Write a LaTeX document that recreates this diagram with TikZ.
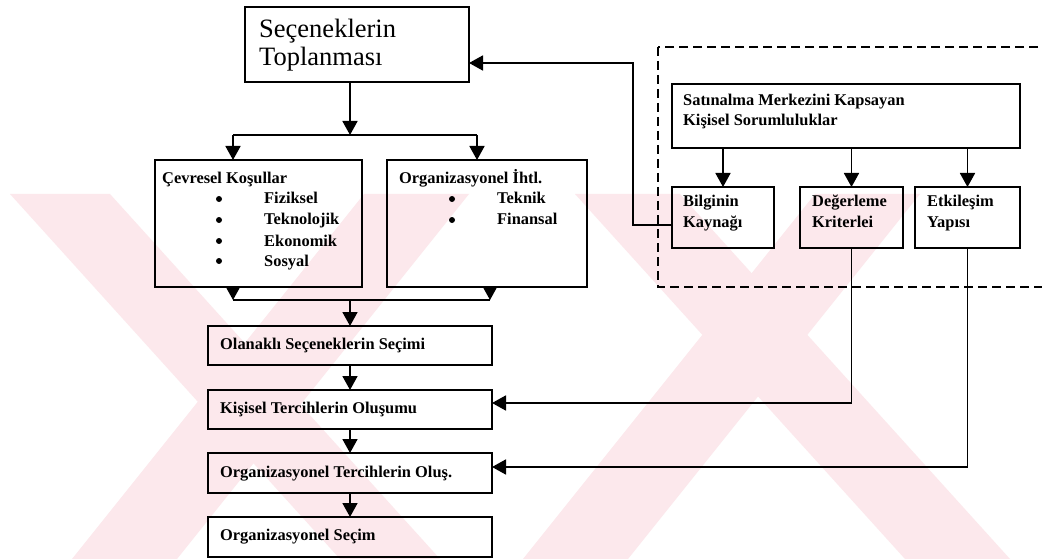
\documentclass[tikz,border=0pt]{standalone}
\usepackage{fontspec}
\setmainfont{Liberation Serif}
\usetikzlibrary{arrows.meta}
\definecolor{wm}{RGB}{252,232,236}
\tikzset{
  bx/.style={draw, line width=2pt, inner sep=0pt, outer sep=0pt},
  lbl/.style={anchor=base west, inner sep=0pt, font=\fontsize{16.4}{20}\selectfont\bfseries},
  ttl/.style={anchor=base west, inner sep=0pt, font=\fontsize{26.5}{28}\selectfont},
  con/.style={line width=1.8pt},
  arr/.style={con, -{Triangle[width=15pt,length=14pt]}},
  dbox/.style={line width=1.6pt, dash pattern=on 9pt off 5pt},
  bul/.style={circle, fill, inner sep=0pt, minimum size=6pt},
}
\begin{document}
\begin{tikzpicture}[x=1pt,y=-1pt]
\clip (0,0) rectangle (1042,559);
\fill[white] (0,0) rectangle (1042,559);
% watermark
\fill[wm] (10,194) -- (110,194) -- (440,559) -- (340,559) -- cycle;
\fill[wm] (364,194) -- (469,194) -- (177,559) -- (72,559) -- cycle;
\fill[wm] (575,194) -- (680,194) -- (1010,559) -- (905,559) -- cycle;
\fill[wm] (815,194) -- (920,194) -- (628,559) -- (523,559) -- cycle;

% boxes
\node[bx, minimum width=224pt, minimum height=75pt] (title) at (357,44.5) {};
\node[bx, minimum width=207pt, minimum height=127pt] (cev) at (258.5,223.5) {};
\node[bx, minimum width=200pt, minimum height=127pt] (org) at (487,223.5) {};
\node[bx, minimum width=348pt, minimum height=64pt] (sat) at (846,116) {};
\node[bx, minimum width=102pt, minimum height=61pt] (bil) at (723,217.5) {};
\node[bx, minimum width=103pt, minimum height=61pt] (deg) at (851.5,217.5) {};
\node[bx, minimum width=105pt, minimum height=61pt] (etk) at (967.5,217.5) {};
\node[bx, minimum width=284pt, minimum height=39pt] (ola) at (350,345.5) {};
\node[bx, minimum width=284pt, minimum height=39pt] (kis) at (350,409.5) {};
\node[bx, minimum width=284pt, minimum height=40pt] (otc) at (350,473) {};
\node[bx, minimum width=284pt, minimum height=40pt] (ose) at (350,537) {};

% dashed frame
\draw[dbox] (658,47) rectangle (1070,287);

% texts
\node[ttl] (t1) at (259,38) {Seçeneklerin};
\node[ttl] (t2) at (259,66) {Toplanması};
\node[lbl] (c0) at (162,183) {Çevresel Koşullar};
\node[lbl] (c1) at (264,204) {Fiziksel};
\node[lbl] (c2) at (264,225) {Teknolojik};
\node[lbl] (c3) at (264,246) {Ekonomik};
\node[lbl] (c4) at (264,266) {Sosyal};
\node[bul] (b1) at (219,199) {};
\node[bul] (b2) at (219,220) {};
\node[bul] (b3) at (219,241) {};
\node[bul] (b4) at (219,261) {};
\node[lbl] (o0) at (399,183) {Organizasyonel İhtl.};
\node[lbl] (o1) at (497,204) {Teknik};
\node[lbl] (o2) at (497,225) {Finansal};
\node[bul] (b5) at (452,199) {};
\node[bul] (b6) at (452,220) {};
\node[lbl] (s1) at (683,106) {Satınalma Merkezini Kapsayan};
\node[lbl] (s2) at (683,126) {Kişisel Sorumluluklar};
\node[lbl] (l1) at (683,207) {Bilginin};
\node[lbl] (l2) at (683,227) {Kaynağı};
\node[lbl] (d1) at (812,207) {Değerleme};
\node[lbl] (d2) at (812,227) {Kriterlei};
\node[lbl] (e1) at (927,207) {Etkileşim};
\node[lbl] (e2) at (927,227) {Yapısı};
\node[lbl] (n1) at (220,349.5) {Olanaklı Seçeneklerin Seçimi};
\node[lbl] (n2) at (220,413.5) {Kişisel Tercihlerin Oluşumu};
\node[lbl] (n3) at (220,477) {Organizasyonel Tercihlerin Oluş.};
\node[lbl] (n4) at (220,540.5) {Organizasyonel Seçim};

% connectors
\coordinate (j1) at (350,135);
\coordinate (j1l) at (233,135);
\coordinate (j1r) at (477,135);
\draw[arr] (title.south -| j1) -- (j1);
\draw[con] (j1l) -- (j1r);
\draw[arr] (j1l) -- (j1l |- cev.north);
\draw[arr] (j1r) -- (j1r |- org.north);

\coordinate (j2) at (350,300);
\coordinate (j2l) at (233,300);
\coordinate (j2r) at (490,300);
\draw[arr] (j2l |- cev.south) -- (j2l);
\draw[arr] (j2r |- org.south) -- (j2r);
\draw[con] (j2l) -- (j2r);
\draw[arr] (j2) -- (ola.north);
\draw[arr] (ola.south) -- (kis.north);
\draw[arr] (kis.south) -- (otc.north);
\draw[arr] (otc.south) -- (ose.north);

\draw[arr] (sat.south -| bil.north) -- (bil.north);
\draw[arr] (sat.south -| deg.north) -- (deg.north);
\draw[arr] (sat.south -| etk.north) -- (etk.north);

\coordinate (k1) at (633,225);
\coordinate (k2) at (500,63);
\draw[arr] (bil.west |- k1) -- (k1) |- (title.east |- k2);
\coordinate (k3) at (0,403);
\coordinate (k4) at (0,467);
\draw[arr] (deg.south) |- (kis.east |- k3);
\draw[arr] (etk.south) |- (otc.east |- k4);
\end{tikzpicture}
\end{document}
